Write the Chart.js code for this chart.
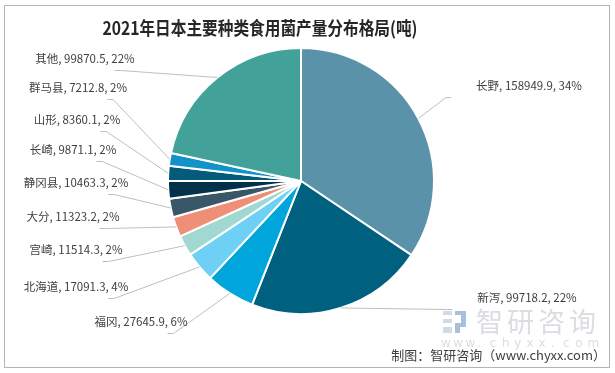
<!doctype html>
<html>
<head>
<meta charset="utf-8" />
<title>2021年日本主要种类食用菌产量分布格局</title>
<script src="https://cdn.jsdelivr.net/npm/chart.js@4.4.1/dist/chart.umd.min.js"></script>
<style>
	html,
	body {
		margin: 0;
		padding: 0;
		background: #fff;
	}
	canvas {
		display: block;
	}
</style>
</head>
<body>
<canvas id="chart" width="615" height="373"></canvas>
<script>
const chartTitle = "2021年日本主要种类食用菌产量分布格局(吨)";
const sourceNote = "制图：智研咨询（www.chyxx.com）";

const categories = ["长野", "新泻", "福冈", "北海道", "宫崎", "大分", "静冈县", "长崎", "山形", "群马县", "其他"];
const production = [158949.9, 99718.2, 27645.9, 17091.3, 11514.3, 11323.2, 10463.3, 9871.1, 8360.1, 7212.8, 99870.5];
const sliceColors = ["#5A93A9", "#00607F", "#00A5DB", "#6FD0F5", "#A2D8D2", "#EF8F78",
	"#395766", "#01324A", "#045B7B", "#1192C8", "#42A29A"];

// label box centres, laid out like the spreadsheet "best fit" labels
const labelSpots = [
	[529, 86], [527, 298], [141, 322], [76, 287], [76, 250], [73, 217],
	[76, 183], [73, 150], [77, 120], [78, 88], [85, 59]
];

const total = production.reduce((a, b) => a + b, 0);
const labelFont = "11.5px 'Noto Sans CJK SC', 'Noto Sans', sans-serif";

const decorations = {
	id: "decorations",
	beforeDraw(chart) {
		const ctx = chart.ctx;
		ctx.save();
		ctx.fillStyle = "#fff";
		ctx.fillRect(0, 0, chart.width, chart.height);
		// frame
		ctx.strokeStyle = "#B4B4B4";
		ctx.lineWidth = 1;
		ctx.strokeRect(4.5, 5.5, 605, 362);
		// watermark
		ctx.fillStyle = "#D2DAE6";
		ctx.fillRect(443, 311, 9, 4);
		ctx.fillRect(443, 319, 9, 4);
		ctx.fillRect(443, 327, 9, 6);
		ctx.fillStyle = "#A9C0DC";
		ctx.fillRect(455, 311, 11, 4);
		ctx.fillRect(461, 315, 5, 8);
		ctx.fillRect(455, 323, 11, 4);
		ctx.fillRect(455, 327, 5, 6);
		ctx.fillStyle = "#DADDE1";
		ctx.font = "27px 'Noto Sans CJK SC', sans-serif";
		ctx.textBaseline = "middle";
		ctx.textAlign = "left";
		["智", "研", "咨", "询"].forEach((c, i) => ctx.fillText(c, 476 + i * 31, 322));
		ctx.font = "12px 'DejaVu Sans', sans-serif";
		"www.chyxx.com".split("").forEach((c, i) => ctx.fillText(c, 441 + i * 12.2, 344));
		ctx.restore();
	},
	afterDatasetsDraw(chart) {
		const ctx = chart.ctx;
		const meta = chart.getDatasetMeta(0);
		ctx.save();
		ctx.font = labelFont;
		ctx.textBaseline = "middle";
		ctx.textAlign = "center";
		meta.data.forEach((arc, i) => {
			const { x, y, startAngle, endAngle, outerRadius } = arc.getProps(
				["x", "y", "startAngle", "endAngle", "outerRadius"], true);
			const mid = (startAngle + endAngle) / 2;
			const px = x + Math.cos(mid) * outerRadius;
			const py = y + Math.sin(mid) * outerRadius;
			const pct = Math.round((production[i] / total) * 100) + "%";
			const text = categories[i] + ", " + production[i] + ", " + pct;
			const w = ctx.measureText(text).width;
			const [cx, cy] = labelSpots[i];
			let near, far;
			if (cx < x) {
				near = cx + w / 2 - 14;
				far = cx + w / 2 - 20;
			} else {
				near = cx - w / 2 - 30;
				far = cx - w / 2 - 25;
			}
			ctx.strokeStyle = "#BFBFBF";
			ctx.lineWidth = 1;
			ctx.beginPath();
			ctx.moveTo(px, py);
			ctx.lineTo(near, cy + 11.5);
			ctx.lineTo(far, cy + 11.5);
			ctx.stroke();
			ctx.fillStyle = "#404040";
			ctx.fillText(text, cx, cy);
		});
		// title (squeezed a bit to match the narrow original face)
		ctx.save();
		ctx.translate(260, 28);
		ctx.scale(0.87, 1);
		ctx.fillStyle = "#262626";
		ctx.font = "bold 18px 'Noto Sans CJK SC', sans-serif";
		ctx.fillText(chartTitle, 0, 0);
		ctx.restore();
		// source
		ctx.fillStyle = "#404040";
		ctx.font = "13px 'Noto Sans CJK SC', sans-serif";
		ctx.textAlign = "right";
		ctx.fillText(sourceNote, 606, 355);
		ctx.restore();
	}
};

new Chart(document.getElementById("chart"), {
	type: "pie",
	data: {
		labels: categories,
		datasets: [{
			data: production,
			backgroundColor: sliceColors,
			borderColor: "#fff",
			borderWidth: 2
		}]
	},
	options: {
		responsive: false,
		devicePixelRatio: 1,
		animation: false,
		layout: { padding: { left: 167, right: 180, top: 47, bottom: 58 } },
		plugins: {
			legend: { display: false },
			tooltip: { enabled: false }
		}
	},
	plugins: [decorations]
});
</script>
</body>
</html>
